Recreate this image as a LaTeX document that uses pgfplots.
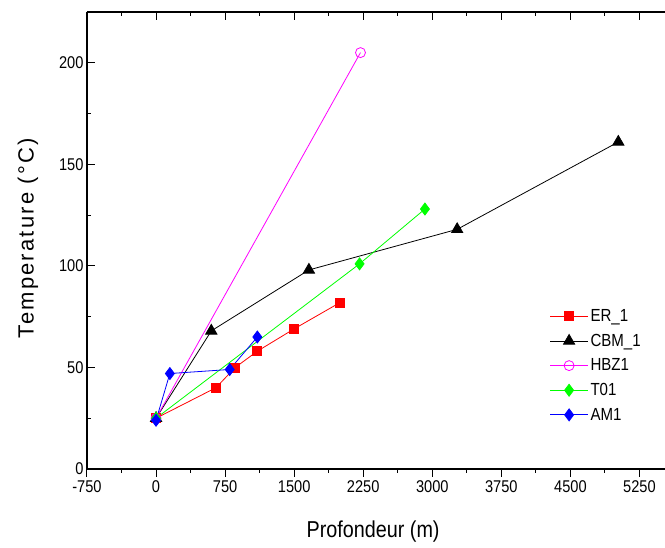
\documentclass[border=0pt]{standalone}
\usepackage{pgfplots}
\pgfplotsset{compat=1.18}
\usepackage{fontspec}
\setmainfont{Liberation Sans}[FakeStretch=0.86]
\newfontfamily\ylabfont{Liberation Sans}[LetterSpace=10]
\definecolor{hbz}{RGB}{255,0,255}
\definecolor{tgreen}{RGB}{0,255,0}
\begin{document}
\begin{tikzpicture}
\useasboundingbox (-87pt,-79pt) rectangle (578pt,469pt);
\pgfplotsset{
  common/.style={
    scale only axis, width=578pt, height=457pt,
    xmin=-750, xmax=5527, ymin=0, ymax=225,
    xtick={-750,0,...,5250}, minor x tick num=1,
    ytick={0,50,...,200}, minor y tick num=1,
    axis line style={line width=1.2pt},
    major tick length=8pt, minor tick length=4pt,
    every tick/.style={black, line width=1pt},
    /pgf/number format/assume math mode=true,
    /pgf/number format/1000 sep={},
    tick label style={font=\fontsize{17}{18}\selectfont},
  }
}
% top axis with inward ticks only
\begin{axis}[common, axis x line*=top, axis y line=none,
  xtick align=inside, xticklabels={}]
\end{axis}
\begin{axis}[common, axis x line*=bottom, axis y line*=left,
  xtick align=outside, ytick align=inside,
  every axis y label/.style={at={(rel axis cs:0,0.505)}, xshift=-59pt, rotate=90, anchor=center},
  every axis x label/.style={at={(rel axis cs:0.495,0)}, yshift=-63pt, anchor=center},
  ylabel={\ylabfont\fontsize{22}{24}\selectfont Temperature (°C)},
  xlabel={\fontsize{23}{24}\selectfont Profondeur (m)},
  legend style={draw=none, fill=none, at={(rel axis cs:0.795,0.358)}, anchor=north west,
    font=\fontsize{17.5}{19}\selectfont, row sep=7pt,
    legend cell align=left},
  legend image code/.code={\draw[mark repeat=2, mark phase=2, #1]
    plot coordinates {(0pt,0pt) (19pt,0pt) (38pt,0pt)};},
]
\addplot[red, line width=0.8pt, mark=square*, mark size=4.5pt, mark options={solid}] coordinates {
  (0,25) (650,40) (860,50) (1100,58) (1500,69) (2000,82)
};
\addplot[black, line width=0.8pt, mark=triangle*, mark size=6.5pt] coordinates {
  (0,25) (600,68) (1660,98) (3270,118) (5020,161)
};
\addplot[hbz, line width=0.8pt, mark=o, mark size=5pt, mark options={fill=white}] coordinates {
  (0,25) (2220,205)
};
\addplot[tgreen, line width=0.8pt, mark=diamond*, mark size=6pt] coordinates {
  (0,25) (2210,101) (2920,128)
};
\addplot[blue, line width=0.8pt, mark=diamond*, mark size=6pt] coordinates {
  (0,24) (150,47) (800,49) (1100,65)
};
\legend{ER\_1, CBM\_1, HBZ1, T01, AM1}
\end{axis}
\end{tikzpicture}
\end{document}
